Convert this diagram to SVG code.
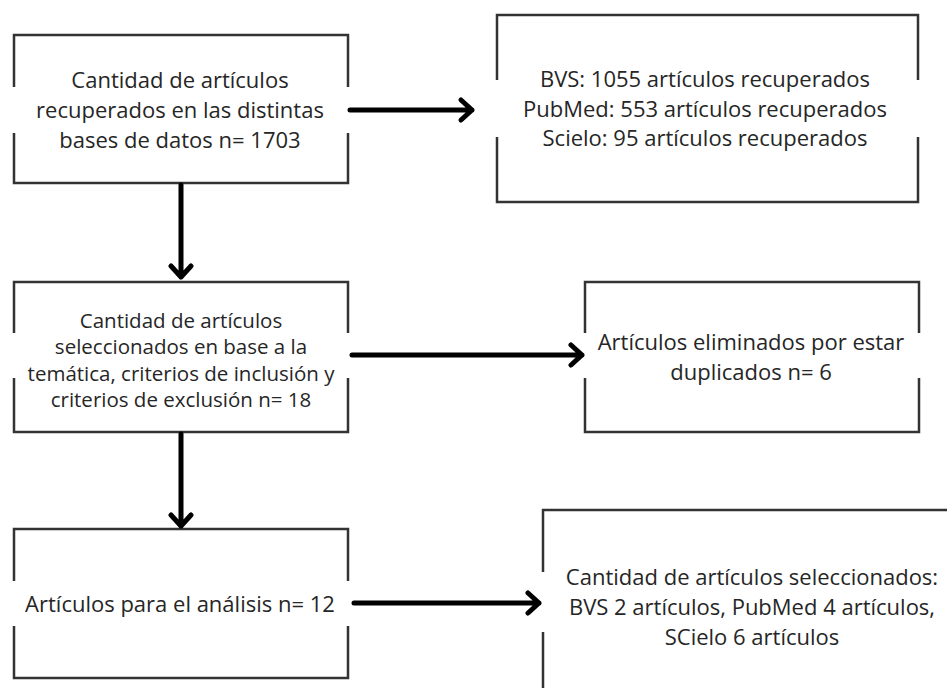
<svg xmlns="http://www.w3.org/2000/svg" width="947" height="688" viewBox="0 0 947 688">
<defs>
<style>
.box{fill:none;stroke:#333;stroke-width:2.5;stroke-linecap:butt}
.t{font-family:"Open Sans","Noto Sans",sans-serif;font-size:22px;fill:#262626;text-anchor:middle}
.s{font-size:20.5px}
.c{fill:none;stroke:#000;stroke-width:5;stroke-linecap:round;stroke-linejoin:round}
</style>
</defs>
<rect width="947" height="688" fill="#fff"/>
<g id="n1">
<path class="box" d="M14,87 V35 H348 V87 M14,133 V183 H348 V133"/>
<text class="t" x="180" y="88">Cantidad de artículos</text>
<text class="t" x="180" y="118">recuperados en las distintas</text>
<text class="t" x="180" y="148">bases de datos n= 1703</text>
</g>
<g id="n2">
<path class="box" d="M497,80 V15 H918 V80 M497,137 V202 H918 V137"/>
<text class="t" x="705" y="87">BVS: 1055 artículos recuperados</text>
<text class="t" x="705" y="117">PubMed: 553 artículos recuperados</text>
<text class="t" x="705" y="146">Scielo: 95 artículos recuperados</text>
</g>
<g id="n3">
<path class="box" d="M14,333 V282 H348 V333 M14,378 V432 H348 V378"/>
<text class="t s" x="181" y="328">Cantidad de artículos</text>
<text class="t s" x="181" y="354">seleccionados en base a la</text>
<text class="t s" x="181" y="381">temática, criterios de inclusión y</text>
<text class="t s" x="181" y="407">criterios de exclusión n= 18</text>
</g>
<g id="n4">
<path class="box" d="M585,333 V282 H919 V333 M585,378 V432 H919 V378"/>
<text class="t" x="751" y="350">Artículos eliminados por estar</text>
<text class="t" x="751" y="380">duplicados n= 6</text>
</g>
<g id="n5">
<path class="box" d="M14,581 V529 H348 V581 M14,626 V678 H348 V626"/>
<text class="t" x="180" y="612">Artículos para el análisis n= 12</text>
</g>
<g id="n6">
<path class="box" d="M543,572 V510 H947 M543,632 V688"/>
<text class="t" x="752" y="585">Cantidad de artículos seleccionados:</text>
<text class="t" x="752" y="615">BVS 2 artículos, PubMed 4 artículos,</text>
<text class="t" x="752" y="645">SCielo 6 artículos</text>
</g>
<g id="connectors">
<path class="c" d="M350,110 H472 M461,100 L472,110 L461,120"/>
<path class="c" d="M181,185 V277 M171,266 L181,277 L191,266"/>
<path class="c" d="M352,355 H582 M571,345 L582,355 L571,365"/>
<path class="c" d="M181,434 V526 M171,515 L181,526 L191,515"/>
<path class="c" d="M354,603 H539 M528,593 L539,603 L528,613"/>
</g>
</svg>
